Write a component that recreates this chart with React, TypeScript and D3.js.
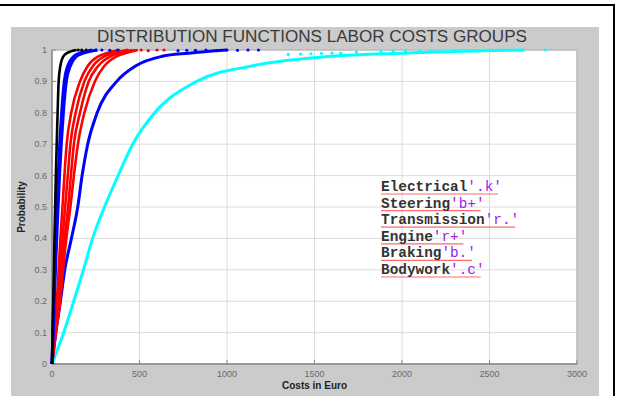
import React from "react";
import * as d3 from "d3";

// Probability levels at which each cost curve is sampled
const probLevels = [0, 0.1, 0.2, 0.3, 0.4, 0.5, 0.6, 0.7, 0.8, 0.9, 0.95, 0.98, 0.99, 1];

// Costs (Euro) reaching each probability level, per labor-cost group
const electricalCosts = [0, 3, 7, 11, 14, 18, 22, 27, 32, 38, 48, 65, 85, 140];
const steeringCostsA = [0, 5, 10, 16, 22, 28, 36, 44, 55, 70, 90, 125, 160, 230];
const steeringCostsB = [0, 7, 13, 20, 27, 35, 43, 53, 65, 82, 105, 140, 180, 260];
const transmissionCostsA = [0, 12, 28, 38, 48, 60, 71, 84, 110, 160, 205, 265, 310, 390];
const transmissionCostsB = [0, 15, 33, 46, 60, 75, 90, 105, 135, 185, 235, 300, 350, 430];
const engineCostsA = [0, 18, 40, 55, 72, 92, 108, 125, 160, 210, 265, 335, 385, 460];
const engineCostsB = [0, 22, 47, 63, 82, 105, 125, 148, 185, 245, 300, 370, 420, 490];
const brakingCosts = [0, 22, 48, 73, 111, 147, 172, 204, 258, 370, 480, 630, 780, 1000];
const bodyworkCosts = [0, 67, 124, 180, 232, 300, 378, 461, 587, 827, 1150, 1600, 2000, 2700];

// Sparse observations in the upper tail
const electricalTailCosts = [150, 170, 195];
const electricalTailProbs = [1, 1, 1];
const steeringTailCosts = [250, 285, 330, 375];
const steeringTailProbs = [1, 1, 0.999, 1];
const redTailCosts = [430, 470, 510, 550, 600, 640];
const redTailProbs = [1, 0.999, 1, 0.998, 1, 1];
const brakingTailCosts = [720, 770, 820, 880, 940, 1000, 1060, 1120, 1180];
const brakingTailProbs = [0.998, 0.999, 0.999, 1, 0.998, 1, 0.999, 1, 1];
const bodyworkTailCosts = [1350, 1420, 1480, 1540, 1600, 1650, 1740, 1880, 1950, 2020, 2100, 2160, 2500, 2820];
const bodyworkTailProbs = [0.986, 0.987, 0.988, 0.989, 0.99, 0.99, 0.993, 0.996, 0.996, 0.997, 0.997, 0.998, 1, 1];

const xTicks = [0, 500, 1000, 1500, 2000, 2500, 3000];
const yTicks = [0, 0.1, 0.2, 0.3, 0.4, 0.5, 0.6, 0.7, 0.8, 0.9, 1];

const legendNames = ["Electrical", "Steering", "Transmission", "Engine", "Braking", "Bodywork"];
const legendSpecs = ["'.k'", "'b+'", "'r.'", "'r+'", "'b.'", "'.c'"];

const W = 619;
const H = 396;
const plot = { left: 52, right: 577, top: 50, bottom: 364 };

export default function App() {
  const x = d3.scaleLinear().domain([0, 3000]).range([plot.left, plot.right]);
  const y = d3.scaleLinear().domain([0, 1]).range([plot.bottom, plot.top]);

  const line = d3
    .line<number>()
    .x((c) => x(c))
    .y((_, i) => y(probLevels[i]))
    .curve(d3.curveMonotoneX);

  const curves: { costs: number[]; color: string; width: number }[] = [
    { costs: bodyworkCosts, color: "#00ffff", width: 3 },
    { costs: brakingCosts, color: "#0000ff", width: 3 },
    { costs: engineCostsB, color: "#ff0000", width: 2.6 },
    { costs: engineCostsA, color: "#ff0000", width: 2.6 },
    { costs: transmissionCostsB, color: "#ff0000", width: 2.6 },
    { costs: transmissionCostsA, color: "#ff0000", width: 2.6 },
    { costs: steeringCostsB, color: "#0000ff", width: 3 },
    { costs: steeringCostsA, color: "#0000ff", width: 3 },
    { costs: electricalCosts, color: "#000000", width: 2.6 },
  ];

  const tails: { costs: number[]; probs: number[]; color: string }[] = [
    { costs: bodyworkTailCosts, probs: bodyworkTailProbs, color: "#00ffff" },
    { costs: brakingTailCosts, probs: brakingTailProbs, color: "#0000ff" },
    { costs: redTailCosts, probs: redTailProbs, color: "#ff0000" },
    { costs: steeringTailCosts, probs: steeringTailProbs, color: "#0000ff" },
    { costs: electricalTailCosts, probs: electricalTailProbs, color: "#000000" },
  ];

  const tickFont = "Arial, 'Liberation Sans', sans-serif";
  const legendX = 381;
  const legendY0 = 191;
  const legendStep = 16.6;
  const legendFont = 14.4;
  const charW = legendFont * 0.6;

  return (
    <svg
      width={W}
      height={H}
      style={{ position: "absolute", left: 0, top: 0, background: "#ffffff" }}
    >
      {/* figure frame */}
      <line x1={0} y1={5} x2={615} y2={5} stroke="#000" strokeWidth={2} />
      <line x1={614} y1={4} x2={614} y2={H} stroke="#000" strokeWidth={2} />
      {/* figure background */}
      <rect x={11} y={27} width={588} height={H - 27} fill="#cbcbcb" />
      {/* axes background */}
      <rect
        x={plot.left}
        y={plot.top}
        width={plot.right - plot.left}
        height={plot.bottom - plot.top}
        fill="#ffffff"
      />
      {/* grid */}
      {xTicks.map((t) => (
        <line
          key={"gx" + t}
          x1={x(t)}
          x2={x(t)}
          y1={plot.top}
          y2={plot.bottom}
          stroke="#dcdcdc"
          strokeWidth={1}
        />
      ))}
      {yTicks.map((t) => (
        <line
          key={"gy" + t}
          x1={plot.left}
          x2={plot.right}
          y1={y(t)}
          y2={y(t)}
          stroke="#dcdcdc"
          strokeWidth={1}
        />
      ))}
      {/* box */}
      <rect
        x={plot.left}
        y={plot.top}
        width={plot.right - plot.left}
        height={plot.bottom - plot.top}
        fill="none"
        stroke="#a8a8a8"
        strokeWidth={1}
      />
      <line x1={plot.left} x2={plot.right} y1={plot.bottom} y2={plot.bottom} stroke="#8a8a8a" strokeWidth={1.5} />
      <line x1={plot.left} x2={plot.left} y1={plot.top} y2={plot.bottom} stroke="#8a8a8a" strokeWidth={1.5} />
      {/* tick marks */}
      {xTicks.map((t) => (
        <line key={"tx" + t} x1={x(t)} x2={x(t)} y1={plot.bottom} y2={plot.bottom - 4} stroke="#8a8a8a" />
      ))}
      {yTicks.map((t) => (
        <line key={"ty" + t} x1={plot.left} x2={plot.left + 4} y1={y(t)} y2={y(t)} stroke="#8a8a8a" />
      ))}

      {/* distribution curves */}
      {curves.map((c, i) => (
        <path
          key={"c" + i}
          d={line(c.costs) || ""}
          fill="none"
          stroke={c.color}
          strokeWidth={c.width}
          strokeLinejoin="round"
        />
      ))}
      {/* tail observations */}
      {tails.map((t, i) =>
        t.costs.map((c, j) => (
          <circle key={"t" + i + "-" + j} cx={x(c)} cy={y(t.probs[j])} r={1.6} fill={t.color} />
        ))
      )}

      {/* tick labels */}
      {xTicks.map((t) => (
        <text
          key={"lx" + t}
          x={x(t)}
          y={plot.bottom + 13}
          textAnchor="middle"
          fontFamily={tickFont}
          fontSize={9}
          fill="#6a6a6a"
        >
          {t}
        </text>
      ))}
      {yTicks.map((t) => (
        <text
          key={"ly" + t}
          x={plot.left - 5}
          y={y(t) + 3}
          textAnchor="end"
          fontFamily={tickFont}
          fontSize={9}
          fill="#6a6a6a"
        >
          {t}
        </text>
      ))}

      {/* title and axis labels */}
      <text
        x={312}
        y={42}
        textAnchor="middle"
        fontFamily={tickFont}
        fontSize={16}
        textLength={430}
        lengthAdjust="spacingAndGlyphs"
        fill="#3a3a3a"
      >
        DISTRIBUTION FUNCTIONS LABOR COSTS GROUPS
      </text>
      <text
        x={(plot.left + plot.right) / 2}
        y={389}
        textAnchor="middle"
        fontFamily={tickFont}
        fontSize={10}
        fontWeight="bold"
        fill="#222"
      >
        Costs in Euro
      </text>
      <text
        transform={`translate(25, ${(plot.top + plot.bottom) / 2}) rotate(-90)`}
        textAnchor="middle"
        fontFamily={tickFont}
        fontSize={10}
        fontWeight="bold"
        fill="#222"
      >
        Probability
      </text>

      {/* legend */}
      {legendNames.map((name, i) => {
        const yy = legendY0 + i * legendStep;
        const total = (name.length + legendSpecs[i].length) * charW;
        return (
          <g key={"lg" + name}>
            <line
              x1={legendX}
              x2={legendX + total - 4}
              y1={yy + 3}
              y2={yy + 3}
              stroke="#ff6b6b"
              strokeWidth={1.2}
            />
            <text
              x={legendX}
              y={yy}
              fontFamily="'Courier New', 'Liberation Mono', monospace"
              fontSize={legendFont}
              fontWeight="bold"
              fill="#333"
            >
              {name}
              <tspan fill="#a020f0" fontWeight="normal">
                {legendSpecs[i]}
              </tspan>
            </text>
          </g>
        );
      })}
    </svg>
  );
}
